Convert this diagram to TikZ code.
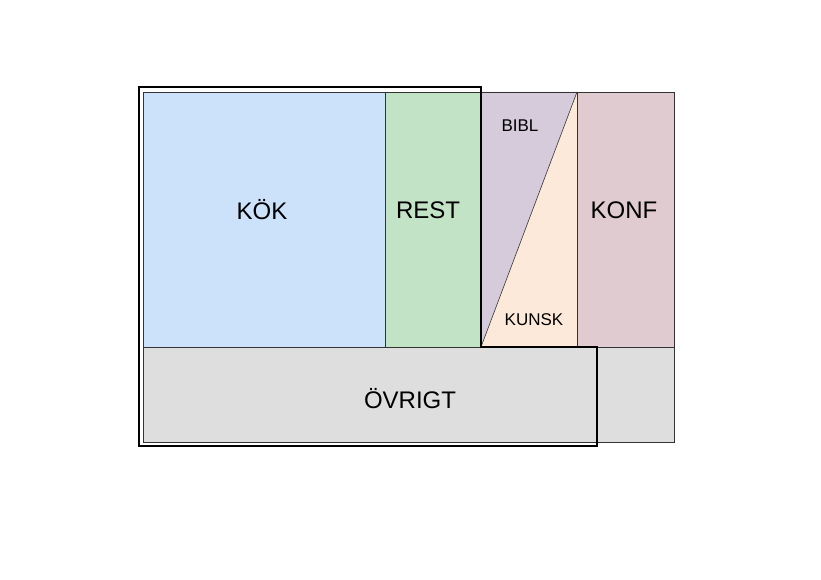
\documentclass[tikz,border=0pt]{standalone}
\usepackage{fontspec}
\setmainfont{Liberation Sans}
\begin{document}
\begin{tikzpicture}[x=1pt,y=-1pt,
  area/.style={draw=black!80,line width=0.6pt},
  big/.style={font=\fontsize{24}{26}\selectfont},
  small/.style={font=\fontsize{17}{19}\selectfont}]
\useasboundingbox (0,0) rectangle (821,580);
\definecolor{ckok}{HTML}{CCE1FA}
\definecolor{crest}{HTML}{C3E3C7}
\definecolor{cbibl}{HTML}{D5CBDB}
\definecolor{ckunsk}{HTML}{FDE9DA}
\definecolor{ckonf}{HTML}{E0CBD0}
\definecolor{covr}{HTML}{DEDEDE}
\fill[covr] (143,347) rectangle (674,442);
\draw[area] (143,347) rectangle (674,442);
\draw[area,fill=ckok] (143,92) rectangle (385,347);
\draw[area,fill=crest] (385,92) rectangle (481,347);
\fill[cbibl] (481,92) -- (577,92) -- (481,347) -- cycle;
\fill[ckunsk] (577,92) -- (577,347) -- (481,347) -- cycle;
\draw[area] (481,92) rectangle (577,347);
\draw[area] (481,347) -- (577,92);
\draw[area,fill=ckonf] (577,92) rectangle (674,347);
\draw[line width=2.6pt] (139,87) -- (481,87) -- (481,347) -- (597,347) -- (597,446) -- (139,446) -- cycle;
\node[big] (kok) at (262,210) {KÖK};
\node[big] (rest) at (428,210) {REST};
\node[big] (konf) at (624,210) {KONF};
\node[big] (ovr) at (410,399) {ÖVRIGT};
\node[small] (bibl) at (520,126) {BIBL};
\node[small] (kunsk) at (534,320) {KUNSK};
\end{tikzpicture}
\end{document}
